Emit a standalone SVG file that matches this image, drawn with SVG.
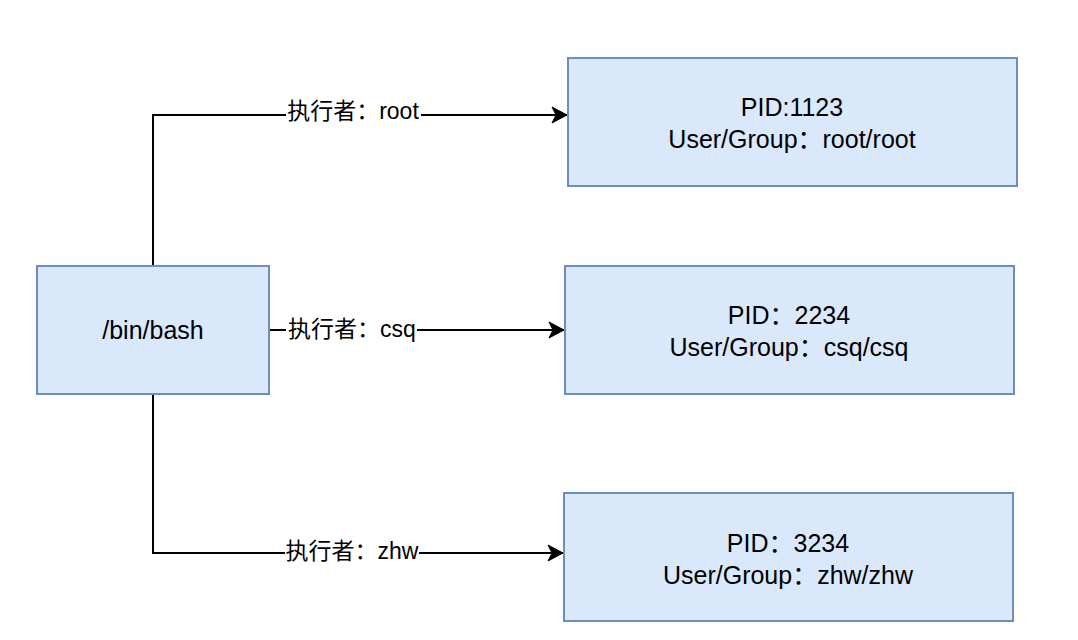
<svg xmlns="http://www.w3.org/2000/svg" width="1078" height="640" viewBox="0 0 1078 640">
<style>
.box{fill:#dae8fc;stroke:#6c8ebf;stroke-width:2}
.t{font-family:"Liberation Sans","Noto Sans CJK SC",sans-serif;font-size:25px;fill:#000;text-anchor:middle}
.lbl{font-family:"Liberation Sans","Noto Sans CJK SC",sans-serif;font-size:23px;fill:#000;text-anchor:middle}
.edge{fill:none;stroke:#000;stroke-width:2}
.lbg{fill:#fff}
</style>
<defs>
<marker id="arr" markerUnits="userSpaceOnUse" markerWidth="20" markerHeight="20" viewBox="-16 -10 18 20" refX="0" refY="0" orient="auto">
<path d="M0,0 L-15,-8 L-11,0 L-15,8 Z" fill="#000" stroke="#000" stroke-width="1"/>
</marker>
</defs>
<rect width="1078" height="640" fill="#fff"/>
<g id="connectors">
<path class="edge" d="M153,266 L153,115 L567,115" marker-end="url(#arr)"/>
<path class="edge" d="M269,330 L564,330" marker-end="url(#arr)"/>
<path class="edge" d="M153,394 L153,553 L563,553" marker-end="url(#arr)"/>
<rect class="lbg" x="286" y="99" width="135" height="27"/>
<text class="lbl" x="353" y="119">执行者：root</text>
<rect class="lbg" x="286" y="316" width="131" height="28"/>
<text class="lbl" x="352" y="337">执行者：csq</text>
<rect class="lbg" x="285" y="538" width="134" height="28"/>
<text class="lbl" x="352" y="559">执行者：zhw</text>
</g>
<g id="bash">
<rect class="box" x="37" y="266" width="232" height="128"/>
<text class="t" x="153" y="339">/bin/bash</text>
</g>
<g id="p1123">
<rect class="box" x="568" y="58" width="449" height="128"/>
<text class="t" x="792" y="116">PID:1123</text>
<text class="t" x="792" y="148">User/Group：root/root</text>
</g>
<g id="p2234">
<rect class="box" x="565" y="266" width="449" height="128"/>
<text class="t" x="789" y="324">PID：2234</text>
<text class="t" x="789" y="356">User/Group：csq/csq</text>
</g>
<g id="p3234">
<rect class="box" x="564" y="493" width="449" height="128"/>
<text class="t" x="788" y="552">PID：3234</text>
<text class="t" x="788" y="584">User/Group：zhw/zhw</text>
</g>
</svg>
